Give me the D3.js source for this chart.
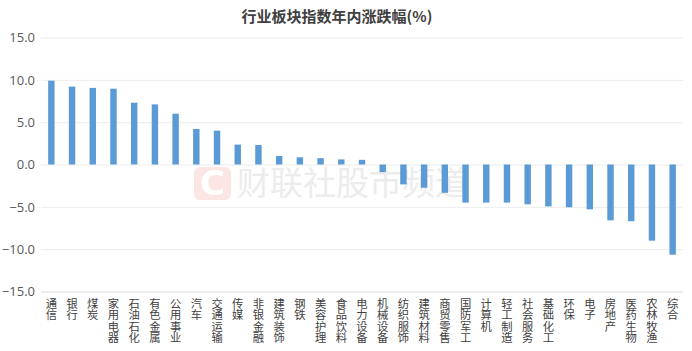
<!DOCTYPE html>
<html>
<head>
<meta charset="utf-8">
<script src="https://cdn.jsdelivr.net/npm/d3@7"></script>
<style>
  html, body { margin: 0; padding: 0; background: #fff; }
  svg { display: block; font-family: "Noto Sans CJK SC", "Noto Sans", sans-serif; }
</style>
</head>
<body>
<svg id="chart" width="692" height="351"></svg>
<script>
// sector names, year-to-date change (%)
const sectors = ["通信", "银行", "煤炭", "家用电器", "石油石化", "有色金属", "公用事业", "汽车",
  "交通运输", "传媒", "非银金融", "建筑装饰", "钢铁", "美容护理", "食品饮料", "电力设备",
  "机械设备", "纺织服饰", "建筑材料", "商贸零售", "国防军工", "计算机", "轻工制造", "社会服务",
  "基础化工", "环保", "电子", "房地产", "医药生物", "农林牧渔", "综合"];
const changes = [9.9, 9.2, 9.05, 8.95, 7.3, 7.1, 6.0, 4.2,
  4.0, 2.35, 2.3, 1.0, 0.85, 0.75, 0.6, 0.55,
  -0.9, -2.35, -2.75, -3.35, -4.5, -4.5, -4.5, -4.7,
  -4.95, -5.05, -5.3, -6.6, -6.7, -9.0, -10.65];
const yTicks = [15, 10, 5, 0, -5, -10, -15];

const svg = d3.select("#chart");
const margin = { top: 38, right: 9, bottom: 60, left: 41 };
const W = 692, H = 351;

const x = d3.scaleBand().domain(sectors).range([margin.left, W - margin.right])
  .paddingInner(0.69).paddingOuter(0.345);
const y = d3.scaleLinear().domain([-15, 15]).range([291.5, 37.5]);

// title
svg.append("text")
  .attr("x", 337).attr("y", 22)
  .attr("text-anchor", "middle")
  .attr("font-size", 15).attr("font-weight", "bold")
  .attr("fill", "#404040")
  .text("行业板块指数年内涨跌幅(%)");

// gridlines
svg.append("g").selectAll("line").data(yTicks).join("line")
  .attr("x1", margin.left).attr("x2", W - margin.right)
  .attr("y1", d => y(d) + 0.5).attr("y2", d => y(d) + 0.5)
  .attr("stroke", d => d === -15 ? "#e6e6e6" : "#ececec")
  .attr("stroke-width", d => d === -15 ? 1.5 : 1);

// y axis labels
const yAxis = d3.axisLeft(y).tickValues(yTicks).tickSize(0).tickPadding(6).tickFormat(d3.format(".1f"));
svg.append("g").attr("transform", `translate(${margin.left},0)`).call(yAxis)
  .call(g => g.select(".domain").remove())
  .selectAll("text")
  .attr("font-size", 13).attr("fill", "#595959")
  .attr("font-family", "'Open Sans', 'Noto Sans', sans-serif");

// watermark
const wm = svg.append("g").attr("opacity", 0.9);
wm.append("rect").attr("x", 194).attr("y", 167).attr("width", 37).attr("height", 33).attr("rx", 6)
  .attr("fill", "#fbe3e3");
wm.append("text").attr("x", 212.5).attr("y", 195).attr("text-anchor", "middle")
  .attr("font-size", 34).attr("font-weight", "bold").attr("fill", "#ffffff")
  .attr("font-family", "'DejaVu Sans', sans-serif").text("C");
wm.append("text").attr("x", 237).attr("y", 195)
  .attr("font-size", 33).attr("fill", "#ebebeb")
  .text("财联社股市频道");

// bars
svg.append("g").selectAll("rect").data(changes).join("rect")
  .attr("x", (d, i) => x(sectors[i]))
  .attr("width", x.bandwidth())
  .attr("y", d => y(Math.max(0, d)))
  .attr("height", d => Math.abs(y(d) - y(0)))
  .attr("fill", "#5b9bd5");

// vertical category labels
svg.append("g").selectAll("text").data(sectors).join("text")
  .attr("x", d => x(d) + x.bandwidth() / 2)
  .attr("y", 298)
  .style("writing-mode", "vertical-rl")
  .style("text-orientation", "upright")
  .attr("font-size", 11.3).attr("fill", "#404040")
  .text(d => d);
</script>
</body>
</html>
